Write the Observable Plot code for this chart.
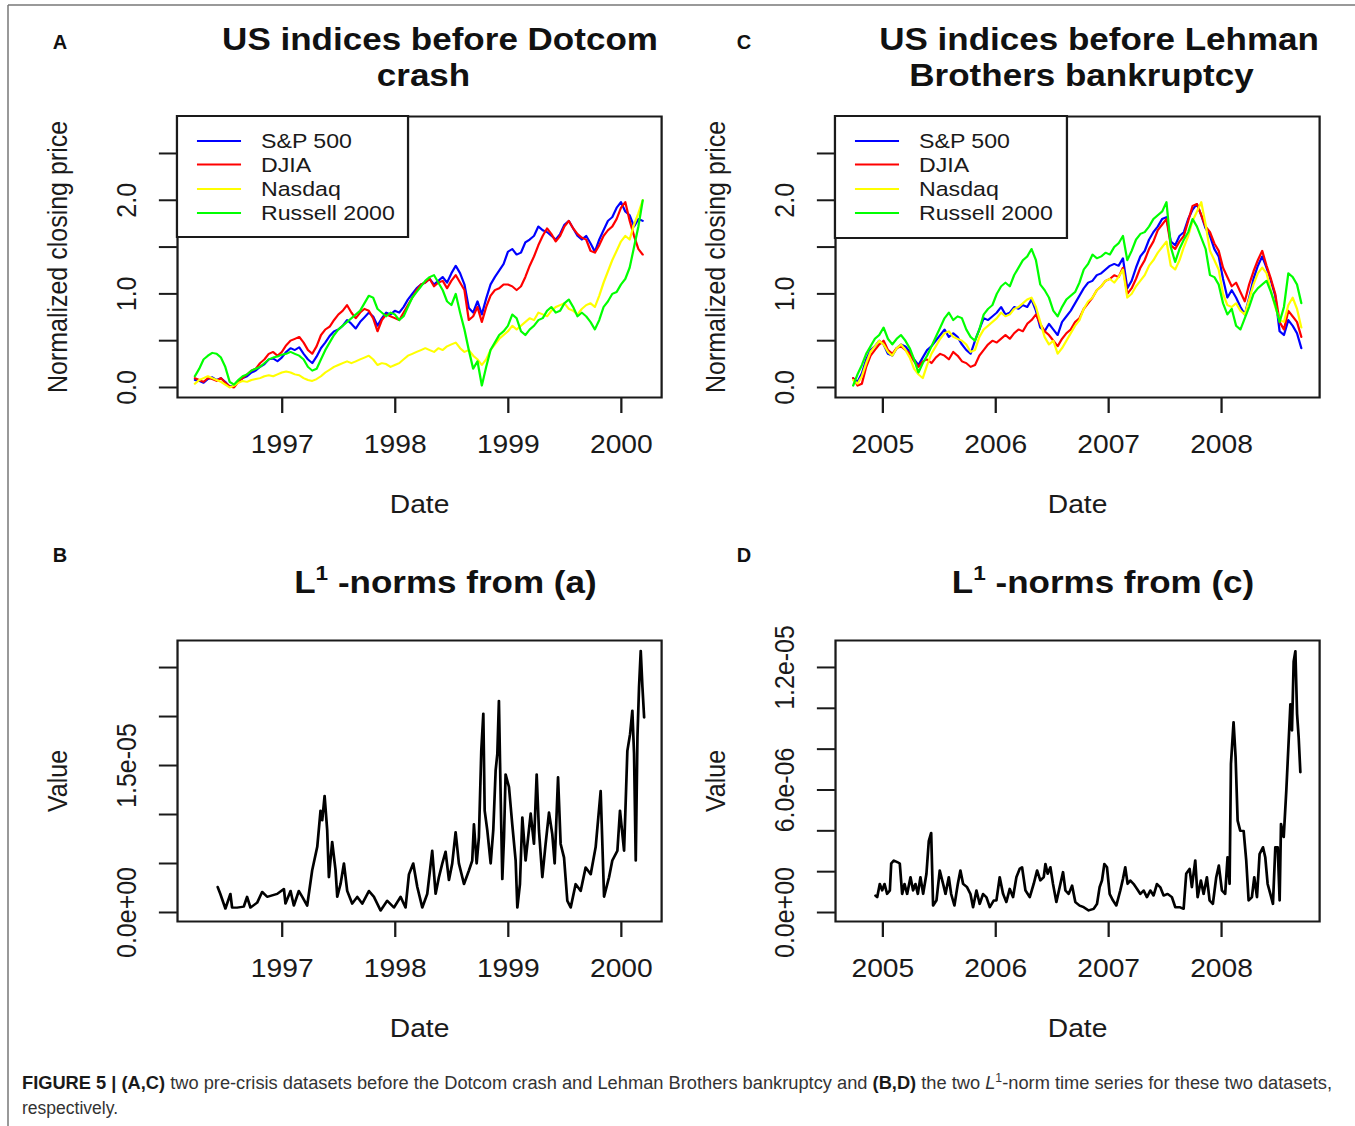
<!DOCTYPE html>
<html>
<head>
<meta charset="utf-8">
<script src="https://cdn.jsdelivr.net/npm/d3@7"></script>
<script src="https://cdn.jsdelivr.net/npm/@observablehq/plot@0.6"></script>
<style>
  html, body { margin: 0; padding: 0; background: #fff; }
  #page { position: relative; width: 1355px; height: 1126px; overflow: hidden; background: #fff; }
  #wide { position: absolute; left: 0; top: 0; width: 1200px; height: 1050px; transform: scaleX(1.13); transform-origin: 0 0; }
  .panel { position: absolute; }
  svg text { font-family: "Liberation Sans", Arial, Helvetica, sans-serif; }
  #notes, #overlay { position: absolute; left: 0; top: 0; pointer-events: none; }
</style>
</head>
<body>
<div id="page">
  <div id="wide">
    <div class="panel" id="panelA" style="left:0px;top:100px"></div>
    <div class="panel" id="panelC" style="left:600px;top:100px"></div>
    <div class="panel" id="panelB" style="left:0px;top:620px"></div>
    <div class="panel" id="panelD" style="left:600px;top:620px"></div>
    <svg id="notes" width="1200" height="1050" viewBox="0 0 1200 1050">
      <g font-weight="bold" font-size="31" fill="#111" text-anchor="middle">
        <text x="389.4" y="50">US indices before Dotcom</text>
        <text x="374.8" y="86">crash</text>
        <text x="972.6" y="50">US indices before Lehman</text>
        <text x="957.1" y="86">Brothers bankruptcy</text>
        <text x="394.2" y="593">L<tspan font-size="20" dy="-13">1</tspan><tspan dy="13"> -norms from (a)</tspan></text>
        <text x="976.1" y="593">L<tspan font-size="20" dy="-13">1</tspan><tspan dy="13"> -norms from (c)</tspan></text>
      </g>
      <g id="legendA"></g>
      <g id="legendC"></g>
    </svg>
  </div>
  <svg id="overlay" width="1355" height="1126">
    <line x1="8" y1="5" x2="1355" y2="5" stroke="#777" stroke-width="1.5"/>
    <line x1="8" y1="5" x2="8" y2="1126" stroke="#777" stroke-width="1.5"/>
    <g font-weight="bold" font-size="20" fill="#111" text-anchor="middle">
      <text x="60" y="49">A</text>
      <text x="744" y="49">C</text>
      <text x="60" y="562">B</text>
      <text x="744" y="562">D</text>
    </g>
    <text x="22" y="1089" font-size="18" fill="#333" textLength="1310" lengthAdjust="spacingAndGlyphs"><tspan font-weight="bold" fill="#1a1a1a">FIGURE 5 | (A,C)</tspan> two pre-crisis datasets before the Dotcom crash and Lehman Brothers bankruptcy and <tspan font-weight="bold" fill="#1a1a1a">(B,D)</tspan> the two <tspan font-style="italic">L</tspan><tspan font-size="12" dy="-7">1</tspan><tspan dy="7">-norm time series for these two datasets,</tspan></text>
    <text x="22" y="1114" font-size="18" fill="#333" textLength="96" lengthAdjust="spacingAndGlyphs">respectively.</text>
  </svg>
</div>
<script>
// ---- Series names and colours ----
const seriesNames = ["S&P 500", "DJIA", "Nasdaq", "Russell 2000"];
const seriesColors = ["#0000ff", "#ff0000", "#ffff00", "#00ff00"];

// ---- Pre-Dotcom window: normalized closing prices, sampled evenly from 1996-03-25 to 2000-03-10 ----
const dotcomStart = "1996-03-25";
const dotcomEnd = "2000-03-10";
const dotcomSP500 = [
  0.08, 0.07, 0.05, 0.09, 0.11, 0.08, 0.10, 0.06, 0.01, 0.02,
  0.07, 0.10, 0.12, 0.16, 0.18, 0.22, 0.25, 0.30, 0.31, 0.28,
  0.32, 0.38, 0.42, 0.40, 0.43, 0.36, 0.30, 0.26, 0.33, 0.42,
  0.48, 0.55, 0.60, 0.62, 0.66, 0.72, 0.68, 0.63, 0.70, 0.75,
  0.80, 0.76, 0.66, 0.74, 0.80, 0.78, 0.82, 0.80, 0.86, 0.94,
  1.00, 1.06, 1.10, 1.12, 1.16, 1.10, 1.14, 1.18, 1.12, 1.22,
  1.30, 1.22, 1.10, 0.85, 0.80, 0.92, 0.78, 0.95, 1.10, 1.18,
  1.25, 1.32, 1.45, 1.48, 1.42, 1.44, 1.55, 1.58, 1.62, 1.72,
  1.68, 1.66, 1.62, 1.58, 1.64, 1.74, 1.78, 1.70, 1.62, 1.58,
  1.62, 1.54, 1.45, 1.58, 1.68, 1.78, 1.82, 1.92, 1.98, 1.88,
  1.84, 1.72, 1.80, 1.78
];
const dotcomDJIA = [
  0.10, 0.08, 0.06, 0.10, 0.09, 0.07, 0.10, 0.05, 0.01, 0.00,
  0.06, 0.10, 0.14, 0.18, 0.20, 0.26, 0.30, 0.36, 0.38, 0.34,
  0.38, 0.45, 0.50, 0.52, 0.54, 0.48, 0.40, 0.36, 0.44, 0.56,
  0.62, 0.65, 0.72, 0.78, 0.82, 0.88, 0.80, 0.74, 0.80, 0.84,
  0.82, 0.74, 0.60, 0.72, 0.78, 0.76, 0.74, 0.72, 0.80, 0.88,
  0.96, 1.04, 1.10, 1.12, 1.16, 1.08, 1.12, 1.14, 1.06, 1.14,
  1.20, 1.12, 1.04, 0.72, 0.76, 0.86, 0.70, 0.86, 0.98, 1.04,
  1.06, 1.10, 1.10, 1.08, 1.04, 1.08, 1.18, 1.30, 1.40, 1.52,
  1.62, 1.70, 1.64, 1.56, 1.62, 1.72, 1.78, 1.70, 1.64, 1.60,
  1.58, 1.46, 1.44, 1.52, 1.62, 1.68, 1.72, 1.80, 1.92, 1.98,
  1.78, 1.62, 1.48, 1.42
];
const dotcomNasdaq = [
  0.04, 0.08, 0.10, 0.12, 0.10, 0.08, 0.06, 0.03, 0.00, 0.02,
  0.05, 0.07, 0.06, 0.08, 0.09, 0.10, 0.12, 0.13, 0.12, 0.14,
  0.16, 0.17, 0.16, 0.14, 0.13, 0.10, 0.08, 0.07, 0.09, 0.12,
  0.16, 0.19, 0.22, 0.24, 0.26, 0.28, 0.26, 0.28, 0.30, 0.32,
  0.34, 0.30, 0.24, 0.26, 0.25, 0.22, 0.24, 0.26, 0.30, 0.34,
  0.36, 0.38, 0.40, 0.42, 0.40, 0.38, 0.42, 0.40, 0.44, 0.46,
  0.48, 0.42, 0.38, 0.40, 0.34, 0.30, 0.24, 0.30, 0.40, 0.46,
  0.52, 0.56, 0.60, 0.66, 0.62, 0.66, 0.70, 0.74, 0.72, 0.80,
  0.78, 0.76, 0.82, 0.86, 0.88, 0.90, 0.84, 0.82, 0.78, 0.84,
  0.88, 0.90, 0.86, 0.98, 1.12, 1.24, 1.36, 1.46, 1.56, 1.62,
  1.58, 1.74, 1.86, 2.00
];
const dotcomRussell = [
  0.12, 0.20, 0.30, 0.34, 0.37, 0.36, 0.32, 0.22, 0.06, 0.03,
  0.08, 0.12, 0.14, 0.18, 0.20, 0.22, 0.26, 0.30, 0.32, 0.33,
  0.35, 0.36, 0.38, 0.36, 0.34, 0.30, 0.22, 0.18, 0.20, 0.30,
  0.40, 0.48, 0.56, 0.62, 0.66, 0.70, 0.74, 0.78, 0.82, 0.90,
  0.98, 0.96, 0.84, 0.80, 0.76, 0.80, 0.78, 0.72, 0.76, 0.86,
  0.96, 1.02, 1.08, 1.14, 1.18, 1.20, 1.12, 1.04, 0.92, 0.88,
  1.00, 0.80, 0.62, 0.40, 0.20, 0.28, 0.02, 0.22, 0.40, 0.48,
  0.56, 0.60, 0.66, 0.78, 0.74, 0.60, 0.56, 0.62, 0.66, 0.72,
  0.74, 0.82, 0.86, 0.80, 0.82, 0.90, 0.94, 0.86, 0.76, 0.80,
  0.76, 0.70, 0.62, 0.72, 0.86, 0.92, 1.00, 1.02, 1.10, 1.16,
  1.28, 1.50, 1.72, 2.00
];

// ---- Pre-Lehman window: normalized closing prices, sampled evenly from 2004-09-27 to 2008-09-15 ----
const lehmanStart = "2004-09-27";
const lehmanEnd = "2008-09-15";
const lehmanSP500 = [
  0.10, 0.06, 0.15, 0.30, 0.40, 0.44, 0.50, 0.46, 0.36, 0.34,
  0.42, 0.46, 0.44, 0.38, 0.30, 0.24, 0.32, 0.40, 0.44, 0.50,
  0.56, 0.62, 0.54, 0.58, 0.54, 0.46, 0.40, 0.36, 0.50, 0.62,
  0.74, 0.72, 0.76, 0.80, 0.86, 0.78, 0.80, 0.86, 0.84, 0.88,
  0.86, 0.94, 0.82, 0.64, 0.60, 0.68, 0.62, 0.56, 0.70, 0.76,
  0.82, 0.90, 0.98, 1.06, 1.12, 1.14, 1.20, 1.22, 1.26, 1.30,
  1.32, 1.30, 1.38, 1.06, 1.14, 1.28, 1.40, 1.46, 1.58, 1.66,
  1.72, 1.80, 1.82, 1.56, 1.52, 1.62, 1.66, 1.80, 1.90, 1.96,
  1.84, 1.70, 1.62, 1.48, 1.40, 1.16, 0.96, 1.04, 0.96, 0.86,
  0.78, 0.96, 1.16, 1.30, 1.40, 1.28, 1.14, 0.98, 0.60, 0.56,
  0.72, 0.66, 0.58, 0.42
];
const lehmanDJIA = [
  0.10, 0.02, 0.04, 0.22, 0.34, 0.40, 0.46, 0.50, 0.40, 0.36,
  0.42, 0.44, 0.40, 0.36, 0.28, 0.22, 0.28, 0.30, 0.26, 0.32,
  0.36, 0.34, 0.30, 0.38, 0.34, 0.28, 0.26, 0.22, 0.24, 0.34,
  0.40, 0.46, 0.50, 0.48, 0.52, 0.56, 0.52, 0.58, 0.62, 0.60,
  0.68, 0.72, 0.78, 0.68, 0.60, 0.56, 0.50, 0.44, 0.52, 0.58,
  0.62, 0.70, 0.74, 0.84, 0.90, 0.96, 1.04, 1.08, 1.14, 1.16,
  1.20, 1.18, 1.28, 1.00, 1.06, 1.16, 1.28, 1.36, 1.48, 1.56,
  1.68, 1.74, 1.80, 1.52, 1.48, 1.56, 1.62, 1.78, 1.94, 1.96,
  1.84, 1.72, 1.66, 1.54, 1.46, 1.28, 1.18, 1.08, 1.12, 1.02,
  0.92, 1.10, 1.24, 1.36, 1.46, 1.30, 1.16, 1.00, 0.70, 0.62,
  0.82, 0.76, 0.70, 0.54
];
const lehmanNasdaq = [
  0.08, 0.04, 0.12, 0.26, 0.38, 0.44, 0.50, 0.46, 0.38, 0.34,
  0.42, 0.46, 0.40, 0.32, 0.20, 0.14, 0.10, 0.24, 0.36, 0.44,
  0.52, 0.58, 0.60, 0.54, 0.52, 0.50, 0.46, 0.38, 0.40, 0.54,
  0.62, 0.66, 0.70, 0.74, 0.80, 0.76, 0.78, 0.84, 0.86, 0.90,
  0.94, 0.96, 0.86, 0.70, 0.54, 0.46, 0.50, 0.36, 0.42, 0.50,
  0.58, 0.66, 0.72, 0.84, 0.92, 0.96, 1.04, 1.08, 1.14, 1.16,
  1.12, 1.18, 1.26, 0.96, 1.00, 1.08, 1.14, 1.20, 1.30, 1.36,
  1.44, 1.50, 1.56, 1.30, 1.26, 1.36, 1.50, 1.62, 1.78, 1.88,
  1.98, 1.74, 1.46, 1.36, 1.26, 1.00, 0.88, 0.86, 0.90, 0.82,
  0.78, 0.94, 1.10, 1.22, 1.28, 1.22, 1.04, 0.86, 0.72, 0.70,
  0.88, 0.96, 0.84, 0.64
];
const lehmanRussell = [
  0.02, 0.14, 0.24, 0.36, 0.44, 0.52, 0.56, 0.64, 0.52, 0.46,
  0.52, 0.56, 0.50, 0.42, 0.30, 0.16, 0.26, 0.34, 0.44, 0.54,
  0.64, 0.74, 0.80, 0.72, 0.76, 0.74, 0.62, 0.54, 0.50, 0.62,
  0.78, 0.84, 0.88, 1.00, 1.08, 1.12, 1.08, 1.20, 1.28, 1.36,
  1.40, 1.48, 1.36, 1.10, 1.04, 0.96, 0.82, 0.76, 0.86, 0.94,
  0.98, 1.02, 1.12, 1.26, 1.32, 1.42, 1.38, 1.40, 1.44, 1.42,
  1.50, 1.54, 1.62, 1.36, 1.46, 1.58, 1.64, 1.66, 1.72, 1.80,
  1.84, 1.88, 1.98, 1.50, 1.34, 1.48, 1.58, 1.66, 1.80, 1.72,
  1.60, 1.48, 1.20, 1.18, 1.10, 0.90, 0.78, 0.84, 0.66, 0.62,
  0.74, 0.86, 1.00, 1.06, 1.10, 1.14, 1.02, 0.88, 0.70, 0.86,
  1.22, 1.18, 1.10, 0.90
];

// ---- L1-norm series (dates as decimal years, values in units of 1e-6) ----
const l1DotcomYear = [
  1996.431, 1996.454, 1996.499, 1996.543, 1996.558, 1996.602, 1996.661, 1996.690, 1996.720, 1996.779,
  1996.823, 1996.867, 1996.956, 1997.015, 1997.029, 1997.074, 1997.103, 1997.147, 1997.177, 1997.221,
  1997.265, 1997.310, 1997.339, 1997.354, 1997.375, 1997.398, 1997.413, 1997.442, 1997.472, 1997.487,
  1997.516, 1997.546, 1997.575, 1997.619, 1997.664, 1997.708, 1997.767, 1997.811, 1997.870, 1997.929,
  1997.988, 1998.047, 1998.091, 1998.121, 1998.159, 1998.195, 1998.239, 1998.283, 1998.327, 1998.357,
  1998.386, 1998.416, 1998.445, 1998.475, 1998.504, 1998.534, 1998.563, 1998.608, 1998.652, 1998.681,
  1998.696, 1998.720, 1998.740, 1998.761, 1998.779, 1998.791, 1998.814, 1998.844, 1998.867, 1998.888,
  1998.903, 1998.917, 1998.932, 1998.947, 1998.962, 1998.976, 1999.006, 1999.035, 1999.065, 1999.080,
  1999.103, 1999.124, 1999.153, 1999.198, 1999.227, 1999.251, 1999.271, 1999.301, 1999.330, 1999.360,
  1999.389, 1999.410, 1999.440, 1999.463, 1999.493, 1999.522, 1999.552, 1999.596, 1999.640, 1999.684,
  1999.729, 1999.773, 1999.817, 1999.847, 1999.891, 1999.920, 1999.965, 1999.988, 2000.024, 2000.053,
  2000.077, 2000.097, 2000.112, 2000.127, 2000.142, 2000.156, 2000.171, 2000.186, 2000.201
];
const l1DotcomValue = [
  2.6, 1.9, 0.4, 1.9, 0.5, 0.5, 0.6, 1.6, 0.5, 1.0,
  2.1, 1.6, 1.9, 2.4, 0.9, 2.2, 0.7, 2.2, 1.6, 0.7,
  4.3, 6.7, 10.4, 9.4, 11.9, 8.4, 3.6, 7.2, 4.3, 1.6,
  2.9, 5.0, 2.2, 0.9, 1.6, 0.9, 2.2, 1.6, 0.2, 1.2,
  0.5, 1.6, 0.5, 3.9, 5.0, 2.6, 0.5, 1.9, 6.3, 1.9,
  3.6, 5.0, 6.2, 3.3, 5.0, 8.2, 5.0, 2.9, 4.3, 5.3,
  9.0, 5.0, 7.7, 16.5, 20.3, 10.4, 8.4, 5.0, 8.4, 14.5,
  16.2, 21.6, 12.1, 3.4, 7.7, 14.1, 12.8, 9.0, 5.3, 0.5,
  2.9, 9.7, 5.3, 10.1, 7.0, 14.1, 8.4, 3.6, 7.0, 10.2,
  8.0, 5.0, 13.8, 7.0, 5.6, 1.2, 0.5, 2.9, 2.2, 4.6,
  3.9, 6.7, 12.4, 1.6, 3.6, 5.3, 6.3, 10.4, 6.3, 16.5,
  18.2, 20.6, 16.2, 5.3, 17.9, 23.0, 26.7, 23.0, 19.9
];
const l1LehmanYear = [
  2004.935, 2004.950, 2004.973, 2004.994, 2005.015, 2005.038, 2005.062, 2005.074, 2005.097, 2005.127,
  2005.150, 2005.171, 2005.192, 2005.215, 2005.245, 2005.268, 2005.289, 2005.310, 2005.333, 2005.357,
  2005.386, 2005.407, 2005.428, 2005.445, 2005.475, 2005.504, 2005.534, 2005.555, 2005.584, 2005.605,
  2005.634, 2005.664, 2005.687, 2005.711, 2005.746, 2005.776, 2005.799, 2005.829, 2005.858, 2005.888,
  2005.917, 2005.947, 2005.982, 2006.006, 2006.035, 2006.065, 2006.094, 2006.124, 2006.153, 2006.183,
  2006.212, 2006.233, 2006.263, 2006.301, 2006.336, 2006.366, 2006.395, 2006.425, 2006.440, 2006.460,
  2006.484, 2006.507, 2006.537, 2006.566, 2006.596, 2006.617, 2006.646, 2006.676, 2006.705, 2006.743,
  2006.779, 2006.823, 2006.867, 2006.897, 2006.920, 2006.941, 2006.962, 2006.985, 2007.009, 2007.038,
  2007.068, 2007.103, 2007.127, 2007.147, 2007.168, 2007.192, 2007.221, 2007.251, 2007.280, 2007.310,
  2007.339, 2007.369, 2007.398, 2007.428, 2007.457, 2007.487, 2007.522, 2007.560, 2007.590, 2007.628,
  2007.664, 2007.687, 2007.717, 2007.737, 2007.767, 2007.788, 2007.817, 2007.841, 2007.870, 2007.894,
  2007.923, 2007.953, 2007.976, 2008.003, 2008.032, 2008.053, 2008.071, 2008.083, 2008.106, 2008.124,
  2008.142, 2008.165, 2008.195, 2008.218, 2008.239, 2008.268, 2008.289, 2008.313, 2008.336, 2008.366,
  2008.386, 2008.407, 2008.431, 2008.454, 2008.475, 2008.496, 2008.513, 2008.525, 2008.549, 2008.572,
  2008.593, 2008.608, 2008.622, 2008.637, 2008.652, 2008.667, 2008.681, 2008.696
];
const l1LehmanValue = [
  0.83, 0.75, 1.40, 1.08, 1.40, 0.91, 1.08, 2.40, 2.55, 2.47,
  2.40, 0.91, 1.40, 0.91, 1.73, 1.08, 1.40, 0.91, 1.73, 0.91,
  1.90, 3.50, 3.90, 0.34, 0.59, 2.06, 1.40, 0.91, 1.73, 0.91,
  0.34, 1.40, 2.06, 1.40, 1.24, 0.91, 0.26, 1.08, 0.42, 0.91,
  0.75, 0.26, 0.59, 0.59, 1.73, 0.91, 0.51, 1.16, 0.75, 1.73,
  2.14, 2.22, 1.08, 0.75, 1.40, 2.06, 1.57, 1.73, 2.38, 1.90,
  2.22, 1.40, 0.51, 1.24, 1.98, 1.08, 0.91, 1.32, 0.51, 0.34,
  0.26, 0.10, 0.18, 0.42, 1.24, 1.57, 2.38, 2.22, 0.91, 0.59,
  0.34, 1.08, 1.65, 2.22, 1.40, 1.57, 1.40, 1.16, 0.91, 1.08,
  0.75, 1.08, 0.83, 1.40, 1.24, 0.83, 0.91, 0.75, 0.26, 0.26,
  0.18, 1.90, 2.14, 1.24, 2.55, 0.75, 1.57, 0.91, 1.73, 0.59,
  0.42, 1.73, 2.30, 1.08, 0.91, 2.71, 1.40, 7.28, 9.32, 7.61,
  4.50, 4.00, 4.00, 2.55, 0.59, 0.75, 1.73, 0.75, 2.87, 3.20,
  2.71, 1.40, 0.91, 0.42, 3.20, 3.20, 0.59, 4.34, 3.69, 5.98,
  8.42, 10.2, 8.91, 12.3, 12.8, 9.73, 8.59, 6.87
];

// ---- Axis ticks and their printed labels ----
const dotcomYears = [1997, 1998, 1999, 2000];
const lehmanYears = [2005, 2006, 2007, 2008];
const priceTicks = [0, 0.5, 1, 1.5, 2, 2.5];
const priceTickLabels = [[0, "0.0"], [1, "1.0"], [2, "2.0"]];
const l1DotcomTicks = [0, 5e-6, 1e-5, 1.5e-5, 2e-5, 2.5e-5];
const l1DotcomTickLabels = [[0, "0.0e+00"], [1.5e-5, "1.5e-05"]];
const l1LehmanTicks = [0, 2e-6, 4e-6, 6e-6, 8e-6, 1e-5, 1.2e-5];
const l1LehmanTickLabels = [[0, "0.0e+00"], [6e-6, "6.0e-06"], [1.2e-5, "1.2e-05"]];

// ---- Helpers ----
const utc = s => new Date(s + "T00:00:00Z");
const fromDecimalYear = y => {
  const yr = Math.floor(y);
  const a = Date.UTC(yr, 0, 1), b = Date.UTC(yr + 1, 0, 1);
  return new Date(a + (y - yr) * (b - a));
};
// evenly spaced sample dates between the first and last trading day of a window
function sampleDates(start, end, n) {
  const a = +utc(start), b = +utc(end);
  return d3.range(n).map(i => new Date(a + (b - a) * i / (n - 1)));
}
function priceTable(start, end, columns) {
  const dates = sampleDates(start, end, columns[0].length);
  return columns.map((values, k) => values.map((v, i) => ({series: seriesNames[k], date: dates[i], value: v})));
}
const labelFormat = labels => d => {
  const hit = labels.find(t => t[0] === d);
  return hit ? hit[1] : "";
};

const FONT = '"Liberation Sans", Arial, Helvetica, sans-serif';
const INK = "#1a1a1a";

function panel({width, height, marginLeft, marginRight, marginTop, marginBottom,
                xDomain, yDomain, years, yTicks, yLabels, yTitle, lineMarks}) {
  return Plot.plot({
    width, height, marginLeft, marginRight, marginTop, marginBottom,
    x: {type: "utc", domain: xDomain},
    y: {type: "linear", domain: yDomain},
    style: {fontFamily: FONT, fontSize: "25px", color: INK, background: "transparent", overflow: "visible"},
    marks: [
      ...lineMarks,
      Plot.frame({stroke: INK, strokeWidth: 2}),
      Plot.axisX({ticks: years.map(y => new Date(Date.UTC(y, 0, 1))), tickFormat: d3.utcFormat("%Y"),
                  tickSize: 16, tickPadding: 22, strokeWidth: 2, fontSize: 25, label: null}),
      Plot.axisY({ticks: yTicks, tickFormat: labelFormat(yLabels), tickSize: 16, tickPadding: 21,
                  tickRotate: -90, strokeWidth: 2, fontSize: 25, label: null}),
      Plot.text(["Date"], {text: d => d, frameAnchor: "bottom", dy: 115, lineAnchor: "bottom",
                           textAnchor: "middle", fontSize: 25, fill: INK}),
      Plot.text([yTitle], {text: d => d, frameAnchor: "left", dx: -116, rotate: -90, lineAnchor: "top",
                           textAnchor: "middle", fontSize: 25, fill: INK})
    ]
  });
}

function priceLines(table) {
  return table.map((rows, k) => Plot.line(rows, {x: "date", y: "value", stroke: seriesColors[k], strokeWidth: 2}));
}

const dotcomDomain = [utc("1996-01-29"), utc("2000-05-10")];
const lehmanDomain = [utc("2004-08-01"), utc("2008-11-13")];

const dotcomTable = priceTable(dotcomStart, dotcomEnd, [dotcomSP500, dotcomDJIA, dotcomNasdaq, dotcomRussell]);
const lehmanTable = priceTable(lehmanStart, lehmanEnd, [lehmanSP500, lehmanDJIA, lehmanNasdaq, lehmanRussell]);
const l1Dotcom = l1DotcomYear.map((y, i) => ({date: fromDecimalYear(y), value: l1DotcomValue[i] * 1e-6}));
const l1Lehman = l1LehmanYear.map((y, i) => ({date: fromDecimalYear(y), value: l1LehmanValue[i] * 1e-6}));

const leftCol = {width: 600, marginLeft: 156.6, marginRight: 15};
const rightCol = {width: 600, marginLeft: 138.9, marginRight: 32.7};
const upperRow = {height: 440, marginTop: 16, marginBottom: 143};
const lowerRow = {height: 430, marginTop: 20, marginBottom: 129};

document.getElementById("panelA").append(panel({
  ...leftCol, ...upperRow, xDomain: dotcomDomain, yDomain: [-0.107, 2.895], years: dotcomYears,
  yTicks: priceTicks, yLabels: priceTickLabels, yTitle: "Normalized closing price",
  lineMarks: priceLines(dotcomTable)
}));
document.getElementById("panelC").append(panel({
  ...rightCol, ...upperRow, xDomain: lehmanDomain, yDomain: [-0.107, 2.895], years: lehmanYears,
  yTicks: priceTicks, yLabels: priceTickLabels, yTitle: "Normalized closing price",
  lineMarks: priceLines(lehmanTable)
}));
document.getElementById("panelB").append(panel({
  ...leftCol, ...lowerRow, xDomain: dotcomDomain, yDomain: [-9.2e-7, 2.776e-5], years: dotcomYears,
  yTicks: l1DotcomTicks, yLabels: l1DotcomTickLabels, yTitle: "Value",
  lineMarks: [Plot.line(l1Dotcom, {x: "date", y: "value", stroke: "#000", strokeWidth: 2.4})]
}));
document.getElementById("panelD").append(panel({
  ...rightCol, ...lowerRow, xDomain: lehmanDomain, yDomain: [-4.4e-7, 1.332e-5], years: lehmanYears,
  yTicks: l1LehmanTicks, yLabels: l1LehmanTickLabels, yTitle: "Value",
  lineMarks: [Plot.line(l1Lehman, {x: "date", y: "value", stroke: "#000", strokeWidth: 2.4})]
}));

// ---- Legends (boxed, top-left of each price panel) ----
function drawLegend(id, box, lineX1, lineX2, textX) {
  const g = d3.select(id);
  g.append("rect").attr("x", box[0]).attr("y", box[1]).attr("width", box[2]).attr("height", box[3])
    .attr("fill", "#fff").attr("stroke", INK).attr("stroke-width", 2);
  const rows = [141, 164.5, 189, 213];
  seriesNames.forEach((name, k) => {
    g.append("line").attr("x1", lineX1).attr("x2", lineX2).attr("y1", rows[k]).attr("y2", rows[k])
      .attr("stroke", seriesColors[k]).attr("stroke-width", 2);
    g.append("text").attr("x", textX).attr("y", rows[k] + 7.3).attr("font-size", 20.5)
      .attr("fill", INK).text(name);
  });
}
drawLegend("#legendA", [156.6, 116, 204.5, 121], 174.3, 213.3, 231);
drawLegend("#legendC", [738.9, 116, 205.3, 122], 756.6, 795.6, 813.3);
</script>
</body>
</html>
